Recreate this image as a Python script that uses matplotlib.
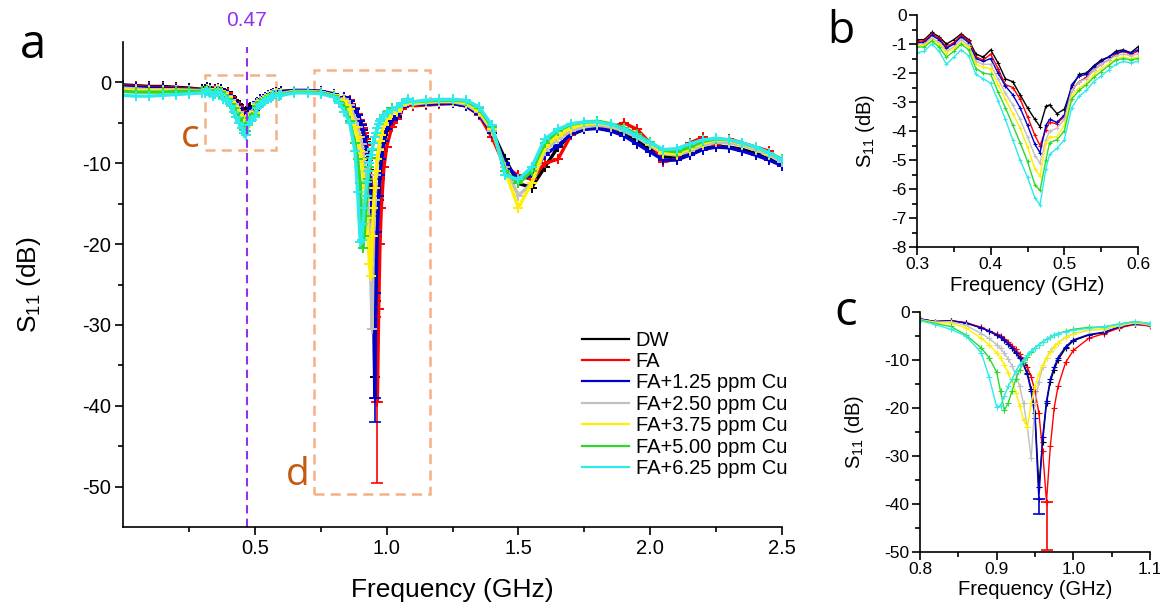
"""S11 reflection spectra: full sweep (a) with zoomed dips (b, c)."""

import matplotlib

matplotlib.use("Agg")
import matplotlib.pyplot as plt
import matplotlib.transforms as mtransforms
from matplotlib.lines import Line2D
from matplotlib.patches import Rectangle
from matplotlib.ticker import FixedLocator, MultipleLocator

plt.rcParams["font.family"] = ["Liberation Sans", "DejaVu Sans"]
plt.rcParams["axes.unicode_minus"] = False
plt.rcParams["mathtext.fontset"] = "custom"
plt.rcParams["mathtext.rm"] = "Liberation Sans"

LABELS = ["DW", "FA", "FA+1.25 ppm Cu", "FA+2.50 ppm Cu",
          "FA+3.75 ppm Cu", "FA+5.00 ppm Cu", "FA+6.25 ppm Cu"]
COLORS = ["#000000", "#FF0000", "#0000CC", "#C0C0C0",
          "#FFF000", "#2ED82E", "#2EEAEA"]

# --- sweep below panel b window (GHz, dB) ---
FREQ_LOW = [0.00, 0.05, 0.10, 0.15, 0.20, 0.25]
S11_LOW = [
    [-0.3, -0.4, -0.5, -0.5, -0.6, -0.7],
    [-0.4, -0.5, -0.6, -0.6, -0.7, -0.8],
    [-0.5, -0.6, -0.7, -0.7, -0.8, -0.85],
    [-0.7, -0.8, -0.9, -0.9, -0.9, -0.95],
    [-0.9, -1.0, -1.0, -1.0, -1.0, -1.0],
    [-1.1, -1.2, -1.2, -1.2, -1.1, -1.1],
    [-1.6, -1.7, -1.7, -1.6, -1.5, -1.4],
]

# --- panel b window ---
FREQ_B = [0.30, 0.31, 0.32, 0.33, 0.34, 0.35, 0.36, 0.37, 0.38, 0.39, 0.40,
          0.41, 0.42, 0.43, 0.44, 0.45, 0.46, 0.467, 0.475, 0.48, 0.49, 0.50,
          0.51, 0.52, 0.53, 0.54, 0.55, 0.56, 0.57, 0.58, 0.59, 0.60]
S11_B = [
    [-0.85, -0.85, -0.60, -0.75, -1.00, -0.85, -0.65, -0.85, -1.35, -1.45, -1.20,
     -1.65, -2.20, -2.30, -2.75, -3.20, -3.60, -3.85, -3.15, -3.10, -3.40, -3.25,
     -2.50, -2.05, -2.00, -1.75, -1.55, -1.45, -1.25, -1.20, -1.30, -1.10],
    [-0.90, -0.90, -0.65, -0.80, -1.10, -0.95, -0.70, -0.90, -1.45, -1.55, -1.35,
     -1.85, -2.40, -2.50, -2.90, -3.50, -4.15, -4.50, -3.95, -3.70, -3.75, -3.50,
     -2.60, -2.30, -2.15, -1.90, -1.70, -1.55, -1.35, -1.25, -1.35, -1.25],
    [-0.95, -0.95, -0.70, -0.85, -1.15, -1.00, -0.75, -0.95, -1.50, -1.60, -1.50,
     -2.00, -2.45, -2.75, -3.20, -3.80, -4.45, -4.75, -3.80, -3.60, -3.70, -3.45,
     -2.40, -2.10, -2.05, -1.80, -1.60, -1.45, -1.30, -1.25, -1.30, -1.20],
    [-1.00, -1.00, -0.80, -0.95, -1.25, -1.10, -0.85, -1.05, -1.60, -1.70, -1.70,
     -2.20, -2.70, -3.10, -3.60, -4.20, -4.85, -5.10, -4.30, -4.00, -3.90, -3.60,
     -2.60, -2.30, -2.20, -1.90, -1.70, -1.55, -1.40, -1.35, -1.40, -1.35],
    [-1.05, -1.05, -0.85, -1.00, -1.30, -1.15, -0.95, -1.10, -1.70, -1.80, -1.85,
     -2.40, -2.90, -3.40, -3.90, -4.55, -5.30, -5.55, -4.40, -4.20, -4.20, -3.80,
     -2.80, -2.50, -2.35, -2.05, -1.85, -1.70, -1.50, -1.45, -1.50, -1.45],
    [-1.10, -1.10, -0.90, -1.10, -1.45, -1.25, -1.00, -1.20, -1.85, -2.00, -2.05,
     -2.65, -3.20, -3.80, -4.40, -5.05, -5.85, -6.05, -5.00, -4.40, -4.30, -4.00,
     -2.90, -2.60, -2.40, -2.15, -1.95, -1.75, -1.55, -1.50, -1.55, -1.50],
    [-1.30, -1.25, -1.00, -1.25, -1.70, -1.45, -1.20, -1.40, -2.05, -2.20, -2.35,
     -2.95, -3.60, -4.30, -5.00, -5.60, -6.30, -6.55, -5.30, -4.80, -4.60, -4.30,
     -3.20, -2.80, -2.60, -2.30, -2.10, -1.90, -1.70, -1.60, -1.65, -1.60],
]

# --- between panel windows ---
FREQ_MID = [0.65, 0.70, 0.75]
S11_MID = [
    [-1.00, -1.00, -1.10],
    [-1.05, -1.05, -1.15],
    [-1.00, -1.00, -1.10],
    [-1.10, -1.10, -1.20],
    [-1.15, -1.15, -1.25],
    [-1.20, -1.20, -1.30],
    [-1.30, -1.30, -1.40],
]

# --- panel c window ---
FREQ_C = [0.80, 0.82, 0.84, 0.86, 0.88, 0.89, 0.90, 0.905, 0.91, 0.915, 0.92,
          0.925, 0.93, 0.935, 0.94, 0.945, 0.95, 0.955, 0.96, 0.965, 0.97,
          0.975, 0.98, 0.99, 1.00, 1.02, 1.04, 1.06, 1.08, 1.10]
S11_C = [
    [-1.5, -2.0, -1.8, -2.3, -3.3, -4.0, -4.8, -5.3, -5.9, -6.6, -7.4,
     -8.3, -9.4, -10.8, -12.8, -16.0, -21.0, -36.5, -27.0, -19.0, -14.5,
     -12.0, -10.0, -7.5, -6.0, -4.8, -4.3, -3.2, -2.5, -2.8],
    [-1.5, -2.0, -1.8, -2.2, -3.2, -3.9, -4.6, -5.1, -5.6, -6.2, -7.0,
     -7.8, -8.8, -10.0, -11.5, -13.5, -16.5, -21.0, -29.0, -39.5, -28.0,
     -20.0, -15.5, -10.5, -8.0, -5.5, -4.5, -3.3, -2.6, -2.9],
    [-1.4, -2.0, -1.8, -2.3, -3.3, -4.0, -4.8, -5.3, -5.9, -6.7, -7.5,
     -8.5, -9.6, -11.0, -13.0, -16.5, -22.0, -39.0, -26.0, -18.5, -14.0,
     -11.5, -9.5, -7.2, -5.8, -4.7, -4.2, -3.1, -2.4, -2.7],
    [-1.6, -2.1, -2.0, -2.8, -4.5, -5.5, -6.8, -7.6, -8.6, -9.8, -11.2,
     -13.0, -15.5, -19.0, -24.0, -30.5, -19.0, -14.5, -11.5, -9.5, -8.2,
     -7.2, -6.5, -5.2, -4.5, -3.8, -3.6, -2.9, -2.3, -2.7],
    [-1.6, -2.2, -2.3, -3.3, -5.5, -6.8, -8.5, -9.5, -11.0, -12.7, -14.5,
     -16.8, -19.5, -22.5, -24.0, -19.0, -15.5, -13.0, -11.0, -9.5, -8.3,
     -7.3, -6.5, -5.3, -4.5, -3.8, -3.5, -2.8, -2.2, -2.6],
    [-1.7, -2.4, -3.0, -4.8, -7.5, -9.5, -12.5, -16.5, -20.5, -19.0, -16.5,
     -14.0, -12.0, -10.5, -9.3, -8.3, -7.5, -6.8, -6.2, -5.7, -5.2,
     -4.8, -4.5, -4.0, -3.6, -3.2, -3.1, -2.5, -2.0, -2.4],
    [-1.8, -2.6, -3.6, -5.0, -8.5, -13.5, -19.8, -19.5, -17.5, -15.5, -14.0,
     -12.3, -11.0, -10.0, -9.0, -8.2, -7.5, -6.8, -6.2, -5.7, -5.2,
     -4.8, -4.5, -4.1, -3.8, -3.4, -3.1, -2.5, -2.0, -2.4],
]

# --- sweep above panel c window ---
FREQ_HIGH = [1.15, 1.20, 1.25, 1.30, 1.35, 1.40, 1.45, 1.50, 1.55, 1.60, 1.65,
             1.70, 1.75, 1.80, 1.85, 1.90, 1.95, 2.00, 2.05, 2.10, 2.15, 2.20,
             2.25, 2.30, 2.35, 2.40, 2.45, 2.50]
S11_HIGH = [
    [-2.7, -2.6, -2.6, -2.9, -3.8, -6.0, -9.5, -12.5, -13.0, -10.5, -8.0,
     -6.5, -5.8, -5.5, -5.6, -6.2, -7.2, -8.3, -9.2, -9.3, -8.8, -8.2,
     -7.9, -8.0, -8.3, -8.8, -9.5, -10.2],
    [-2.8, -2.7, -2.6, -2.9, -4.0, -6.8, -10.5, -11.5, -12.0, -10.0, -9.5,
     -6.5, -5.5, -5.0, -5.6, -5.0, -5.8, -7.5, -9.8, -9.5, -7.5, -6.8,
     -7.8, -7.0, -7.5, -8.0, -8.5, -9.8],
    [-2.7, -2.6, -2.6, -2.9, -3.9, -6.2, -10.0, -12.0, -11.5, -9.0, -7.8,
     -6.4, -5.8, -5.7, -6.0, -6.6, -7.6, -8.6, -9.6, -9.6, -9.0, -8.3,
     -8.0, -8.1, -8.5, -9.0, -9.6, -10.3],
    [-2.5, -2.4, -2.4, -2.7, -3.7, -6.0, -10.5, -14.0, -12.5, -8.5, -7.0,
     -6.0, -5.5, -5.3, -5.5, -6.0, -6.8, -7.8, -8.8, -9.0, -8.5, -7.8,
     -7.4, -7.5, -7.8, -8.3, -9.0, -9.8],
    [-2.4, -2.3, -2.3, -2.5, -3.5, -5.8, -11.0, -15.5, -12.5, -8.0, -6.6,
     -5.6, -5.2, -5.0, -5.3, -5.8, -6.6, -7.6, -8.7, -8.8, -8.2, -7.5,
     -7.1, -7.2, -7.6, -8.1, -8.8, -9.6],
    [-2.3, -2.2, -2.2, -2.3, -3.2, -5.5, -11.0, -12.5, -11.0, -7.5, -6.0,
     -5.2, -4.9, -4.8, -5.1, -5.6, -6.4, -7.4, -8.4, -8.6, -8.0, -7.3,
     -7.0, -7.1, -7.5, -8.0, -8.7, -9.5],
    [-2.2, -2.1, -2.1, -2.2, -3.0, -5.3, -11.5, -12.0, -10.5, -7.0, -5.8,
     -5.1, -4.9, -4.9, -5.2, -5.8, -6.6, -7.5, -8.3, -8.2, -7.6, -7.1,
     -6.9, -7.1, -7.5, -8.0, -8.7, -9.6],
]

# deepest-point error bars (FA and FA+1.25 ppm Cu)
DIP_SERIES = [1, 2]
DIP_FREQ = [0.965, 0.955]
DIP_LEVEL = [-39.5, -39.0]
DIP_LOWER = [-49.5, -42.0]

MARKER_FREQ = 0.47
BOX_C = (0.31, -8.3, 0.58, 0.9)      # f0, s0, f1, s1
BOX_D = (0.723, -50.9, 1.165, 1.5)

BOX_COLOR = "#F4B183"
TAG_COLOR = "#C55A11"
MARK_COLOR = "#9030F0"
LETTER_FONT = ["Open Sans", "DejaVu Sans"]


def style_axis(ax, tick_size, pad):
    for side in ("top", "right"):
        ax.spines[side].set_visible(False)
    for side in ("left", "bottom"):
        ax.spines[side].set_linewidth(1.2)
    ax.tick_params(which="both", direction="out", width=1.2,
                   labelsize=tick_size, pad=pad)
    ax.tick_params(which="major", length=5.5)
    ax.tick_params(which="minor", length=3.5)


freq_main = FREQ_LOW + FREQ_B + FREQ_MID + FREQ_C + FREQ_HIGH
s11_main = [S11_LOW[i] + S11_B[i] + S11_MID[i] + S11_C[i] + S11_HIGH[i]
            for i in range(len(LABELS))]

fig = plt.figure(figsize=(11.6, 6.08), dpi=100)
ax_a = fig.add_axes([123 / 1160, 1 - 527 / 608, 659 / 1160, 485 / 608])
ax_b = fig.add_axes([917 / 1160, 1 - 247 / 608, 221 / 1160, 232 / 608])
ax_c = fig.add_axes([920 / 1160, 1 - 552 / 608, 230 / 1160, 240 / 608])

# --- panel a ---
for i, color in enumerate(COLORS):
    ax_a.plot(freq_main, s11_main[i], color=color, lw=2.4,
              marker="+", ms=7, mew=1.4)
for k, i in enumerate(DIP_SERIES):
    for ax in (ax_a, ax_c):
        ax.errorbar([DIP_FREQ[k]], [DIP_LEVEL[k]],
                    yerr=[[DIP_LEVEL[k] - DIP_LOWER[k]], [0]],
                    fmt="none", ecolor=COLORS[i], elinewidth=1.2,
                    capsize=4, capthick=1.2)

for f0, s0, f1, s1 in (BOX_C, BOX_D):
    ax_a.add_patch(Rectangle((f0, s0), f1 - f0, s1 - s0, fill=False,
                             ec=BOX_COLOR, lw=1.8, ls=(0, (4, 2.5))))

ax_a.axvline(MARKER_FREQ, ymin=0, ymax=0.99, color=MARK_COLOR, lw=1.5,
             ls=(0, (4, 2.5)))
blend = mtransforms.blended_transform_factory(ax_a.transData, ax_a.transAxes)
ax_a.text(MARKER_FREQ, 1.045, f"{MARKER_FREQ:.2f}", transform=blend,
          ha="center", va="center", color=MARK_COLOR, fontsize=15)
ax_a.text(0.254, -6.8, "c", color=TAG_COLOR, fontsize=28, family=LETTER_FONT,
          ha="center", va="center")
ax_a.text(0.664, -48.6, "d", color=TAG_COLOR, fontsize=28, family=LETTER_FONT,
          ha="center", va="center")

ax_a.set_xlim(0, 2.5)
ax_a.set_ylim(-55, 5)
ax_a.xaxis.set_major_locator(FixedLocator([0.5, 1.0, 1.5, 2.0, 2.5]))
ax_a.xaxis.set_minor_locator(FixedLocator([0.25, 0.75, 1.25, 1.75, 2.25]))
ax_a.yaxis.set_major_locator(FixedLocator([0, -10, -20, -30, -40, -50]))
ax_a.yaxis.set_minor_locator(FixedLocator([-5, -15, -25, -35, -45]))
style_axis(ax_a, 14.5, 3)
ax_a.set_xlabel("Frequency (GHz)", fontsize=19)
ax_a.set_ylabel("S$_{\\mathregular{11}}$ (dB)", fontsize=19)
ax_a.xaxis.set_label_coords(0.5, -0.105)
ax_a.yaxis.set_label_coords(-0.121, 0.5)

handles = [Line2D([], [], color=c, lw=1.6) for c in COLORS]
ax_a.legend(handles, LABELS, loc="upper left", bbox_to_anchor=(0.697, 0.405),
            frameon=False, fontsize=14.5, handlelength=2.3, handletextpad=0.35,
            labelspacing=0.12, borderpad=0, borderaxespad=0)

# --- panel b ---
for i, color in enumerate(COLORS):
    ax_b.plot(FREQ_B, S11_B[i], color=color, lw=1.0, marker="+", ms=3, mew=0.8)
ax_b.set_xlim(0.3, 0.6)
ax_b.set_ylim(-8, 0)
ax_b.xaxis.set_major_locator(MultipleLocator(0.1))
ax_b.xaxis.set_minor_locator(MultipleLocator(0.05))
ax_b.yaxis.set_major_locator(MultipleLocator(1))
ax_b.yaxis.set_minor_locator(MultipleLocator(0.5))
style_axis(ax_b, 12.5, 2)
ax_b.set_xlabel("Frequency (GHz)", fontsize=14.5)
ax_b.set_ylabel("S$_{\\mathregular{11}}$ (dB)", fontsize=14.5)
ax_b.xaxis.set_label_coords(0.5, -0.125)
ax_b.yaxis.set_label_coords(-0.18, 0.5)

# --- panel c ---
for i, color in enumerate(COLORS):
    ax_c.plot(FREQ_C, S11_C[i], color=color, lw=1.0, marker="+", ms=4, mew=0.8)
ax_c.set_xlim(0.8, 1.1)
ax_c.set_ylim(-50, 0)
ax_c.xaxis.set_major_locator(MultipleLocator(0.1))
ax_c.xaxis.set_minor_locator(MultipleLocator(0.05))
ax_c.yaxis.set_major_locator(MultipleLocator(10))
ax_c.yaxis.set_minor_locator(MultipleLocator(5))
style_axis(ax_c, 12.5, 2)
ax_c.set_xlabel("Frequency (GHz)", fontsize=14.5)
ax_c.set_ylabel("S$_{\\mathregular{11}}$ (dB)", fontsize=14.5)
ax_c.xaxis.set_label_coords(0.5, -0.115)
ax_c.yaxis.set_label_coords(-0.235, 0.5)

# panel letters
fig.text(33 / 1160, 1 - 45 / 608, "a", fontsize=34, family=LETTER_FONT,
         ha="center", va="center")
fig.text(841 / 1160, 1 - 32 / 608, "b", fontsize=32, family=LETTER_FONT,
         ha="center", va="center")
fig.text(846 / 1160, 1 - 312 / 608, "c", fontsize=34, family=LETTER_FONT,
         ha="center", va="center")

fig.savefig("out.png", dpi=100)
plt.close(fig)
